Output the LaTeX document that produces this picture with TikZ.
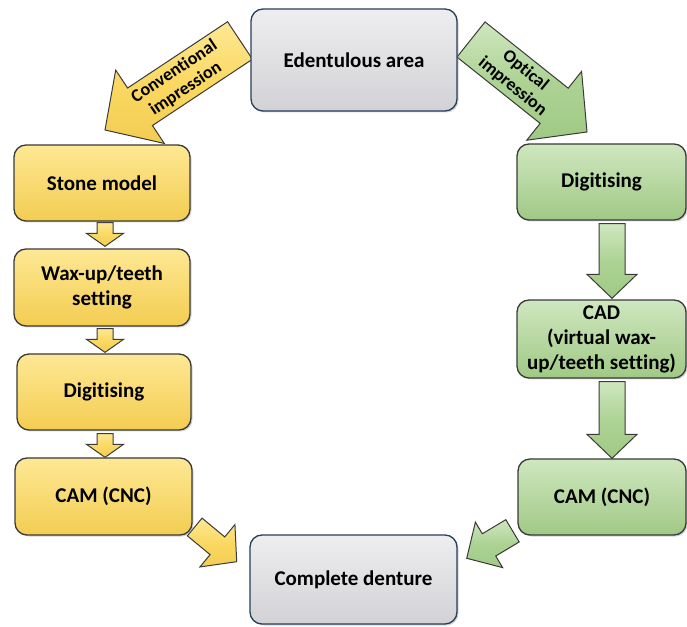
\documentclass[tikz,border=0pt]{standalone}
\usepackage{fontspec}
\setmainfont{Carlito}[Ligatures=NoCommon]
\usetikzlibrary{calc,shadows}

\definecolor{ylwL}{HTML}{FEE894}
\definecolor{ylwM}{HTML}{FAD862}
\definecolor{ylwD}{HTML}{F3CD52}
\definecolor{grnL}{HTML}{CFE7BF}
\definecolor{grnM}{HTML}{ADD394}
\definecolor{grnD}{HTML}{A0C985}
\definecolor{gryL}{HTML}{EEEEF0}
\definecolor{gryM}{HTML}{DCDBDE}
\definecolor{gryD}{HTML}{D2D1D5}
\definecolor{edgeD}{HTML}{3A3A3A}
\definecolor{edgeB}{HTML}{263F5C}

\pgfdeclarelayer{arrowlayer}
\pgfsetlayers{arrowlayer,main}

\begin{document}
\begin{tikzpicture}[x=1pt,y=1pt,
  box/.style={rounded corners=12pt, line width=1.3pt, align=center, inner sep=0pt,
    font=\fontsize{21}{25}\selectfont\bfseries,
    drop shadow={opacity=0.35, shadow xshift=1.5pt, shadow yshift=-1.5pt}},
  boxsize/.style 2 args={minimum width=#1, minimum height=#2},
  ybox/.style={box, draw=edgeD, top color=ylwL, middle color=ylwM, bottom color=ylwD},
  gbox/.style={box, draw=edgeD, top color=grnL, middle color=grnM, bottom color=grnD},
  ebox/.style={box, draw=edgeB, top color=gryL, middle color=gryM, bottom color=gryD},
  blockarrow/.style n args={3}{to path={
    let \p1=(\tikztostart), \p2=(\tikztotarget),
        \n1={atan2(\y2-\y1,\x2-\x1)},
        \n2={veclen(\x2-\x1,\y2-\y1)-#3} in
    ($(\p1)+({\n1+90}:{#1/2})$)
    -- ($(\p1)+(\n1:\n2)+({\n1+90}:{#1/2})$)
    -- ($(\p1)+(\n1:\n2)+({\n1+90}:{#2/2})$)
    -- (\p2)
    -- ($(\p1)+(\n1:\n2)+({\n1-90}:{#2/2})$)
    -- ($(\p1)+(\n1:\n2)+({\n1-90}:{#1/2})$)
    -- ($(\p1)+({\n1-90}:{#1/2})$) -- cycle}},
  yarrow/.style={draw=edgeD, line width=1pt, line join=miter,
    top color=ylwL, bottom color=ylwD, middle color=ylwM},
  garrow/.style={draw=edgeD, line width=1pt, line join=miter,
    top color=grnL, bottom color=grnD, middle color=grnM},
  alabel/.style={align=center, inner sep=0pt,
    font=\fontsize{18}{20.5}\selectfont\bfseries}
]
\useasboundingbox (0,0) rectangle (687,626);

% process boxes
\node[ebox, boxsize={206}{102}] (eden) at (354,566)   {Edentulous area};
\node[ybox, boxsize={176}{76}]  (stone) at (102,443)  {Stone model};
\node[ybox, boxsize={176}{77}]  (wax) at (102,338.5)  {Wax-up/teeth\\setting};
\node[ybox, boxsize={174}{76}]  (digL) at (104,234)   {Digitising};
\node[ybox, boxsize={177}{77}]  (camL) at (103.5,129.5) {CAM (CNC)};
\node[ebox, boxsize={207}{89}]  (dent) at (353.5,46.5) {Complete denture};
\node[gbox, boxsize={169}{76}]  (digR) at (601.5,444) {Digitising};
\node[gbox, boxsize={169}{78}]  (cad) at (601.5,287)  {CAD\\(virtual wax-\\up/teeth setting)};
\node[gbox, boxsize={168}{76}]  (camR) at (602,129)   {CAM (CNC)};

% arrow ends
\coordinate (convS) at (240,585.5);
\coordinate (convT) at (105,496);
\coordinate (optS)  at (471,586.5);
\coordinate (optT)  at (587,494);
\coordinate (ya1S) at ($(stone.south)+(3,-1)$);
\coordinate (ya1T) at ($(wax.north)+(3,2)$);
\coordinate (ya2S) at ($(wax.south)+(3,-2)$);
\coordinate (ya2T) at ($(digL.north)+(1,1)$);
\coordinate (ya3S) at ($(digL.south)+(1,-3)$);
\coordinate (ya3T) at ($(camL.north)+(1.5,0)$);
\coordinate (ga1S) at ($(digR.south)+(10.5,-3)$);
\coordinate (ga1T) at ($(cad.north)+(10.5,1)$);
\coordinate (ga2S) at ($(cad.south)+(10.5,-3)$);
\coordinate (ga2T) at ($(camR.north)+(10,0)$);
\coordinate (ybS) at (194.7,99);
\coordinate (ybT) at (236.7,64.3);
\coordinate (gbS) at (512.5,95.2);
\coordinate (gbT) at (466.7,67.7);

\begin{pgfonlayer}{arrowlayer}
  \path[yarrow] (convS) to[blockarrow={45}{88}{42}] (convT);
  \path[garrow] (optS)  to[blockarrow={45}{88}{42}] (optT);
  \path[yarrow] (ya1S) to[blockarrow={16}{37}{13}] (ya1T);
  \path[yarrow] (ya2S) to[blockarrow={16}{37}{13}] (ya2T);
  \path[yarrow] (ya3S) to[blockarrow={16}{37}{13}] (ya3T);
  \path[garrow] (ga1S) to[blockarrow={26}{50}{24}] (ga1T);
  \path[garrow] (ga2S) to[blockarrow={26}{50}{24}] (ga2T);
  \path[yarrow] (ybS) to[blockarrow={23}{55}{25}] (ybT);
  \path[garrow] (gbS) to[blockarrow={26}{53}{26}] (gbT);
\end{pgfonlayer}

% arrow captions
\node[alabel, rotate=33.5] (convlbl) at (180,545.7) {Conventional\\impression};
\node[alabel, rotate=-39]  (optlbl)  at (519,547.5) {Optical\\impression};
\end{tikzpicture}
\end{document}
